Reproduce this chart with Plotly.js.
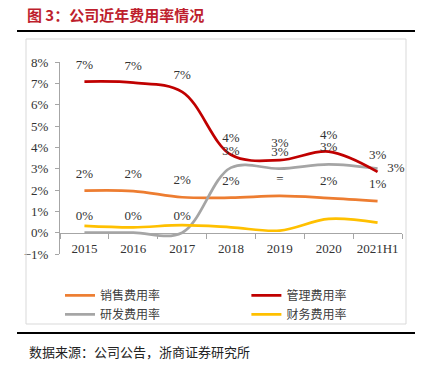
<!DOCTYPE html>
<html><head><meta charset="utf-8">
<script src="https://cdn.plot.ly/plotly-3.0.1.min.js"></script>
<style>html,body{margin:0;padding:0;background:#fff}#chart{width:427px;height:368px}</style>
</head><body><div id="chart"></div>
<script>
const categories = ['2015','2016','2017','2018','2019','2020','2021H1'];
const salesRate = [1.97, 1.95, 1.66, 1.64, 1.72, 1.62, 1.48];
const mgmtRate  = [7.08, 7.03, 6.6, 3.65, 3.4, 3.8, 2.85];
const rdRate    = [0.0, 0.0, 0.0, 3.05, 3.0, 3.2, 3.0];
const finRate   = [0.32, 0.25, 0.35, 0.25, 0.1, 0.65, 0.47];
const salesLabels = ['2%','2%','2%','2%','=','2%','1%'];
const mgmtLabels  = ['7%','7%','7%','4%','3%','4%','3%'];
const rdLabels    = ['0%','0%','0%','3%','3%','3%','3%'];
const rdLabelPos  = ['top center','top center','top center','top center','top center','top center','middle right'];
const seriesNames = ['销售费用率','管理费用率','研发费用率','财务费用率'];
const colors = ['#ED7D31','#C00000','#A5A5A5','#FFC000'];

const lblFont = {family:'Liberation Serif, Times New Roman, serif', size:13, color:'#333'};
function line(name, y, color, legend){
  return {x:categories, y:y, name:name, type:'scatter', mode:'lines', legend:legend,
    line:{color:color, width:2.7, shape:'spline', smoothing:1}, hoverinfo:'skip'};
}
function labels(y, text, pos){
  return {x:categories, y:y, type:'scatter', mode:'markers+text', showlegend:false,
    text:text, textposition:pos||'top center', textfont:lblFont,
    marker:{size:14, opacity:0}, cliponaxis:false, hoverinfo:'skip'};
}
const data = [
  line(seriesNames[0], salesRate, colors[0], 'legend'),
  line(seriesNames[2], rdRate, colors[2], 'legend'),
  line(seriesNames[1], mgmtRate, colors[1], 'legend2'),
  line(seriesNames[3], finRate, colors[3], 'legend2'),
  labels(salesRate, salesLabels),
  labels(mgmtRate, mgmtLabels),
  labels(rdRate, rdLabels, rdLabelPos)
];
const axisCol = '#A6A6A6';
const tickFont = {family:'Liberation Serif, Times New Roman, serif', size:13, color:'#333'};
const legFont = {family:'Noto Sans CJK SC', size:12, color:'#404040'};
const layout = {
  width:427, height:368,
  margin:{l:60, r:25, t:62, b:114},
  paper_bgcolor:'#fff', plot_bgcolor:'#fff',
  showlegend:true,
  title:{text:'图 3：公司近年费用率情况', xref:'container', yref:'container', x:0.063, xanchor:'left', y:0.958, yanchor:'middle',
    font:{family:'Noto Sans CJK SC', size:15, color:'#BE1E2D', weight:'bold'}},
  xaxis:{type:'category', categoryorder:'array', categoryarray:categories, range:[-0.5,6.5],
    anchor:'free', position:1/9, showline:true, linecolor:axisCol, linewidth:1,
    ticks:'outside', tickson:'boundaries', ticklen:5, tickcolor:axisCol, tickangle:0, automargin:false,
    showgrid:false, zeroline:false, fixedrange:true, tickfont:tickFont, ticklabelstandoff:4},
  yaxis:{range:[-1,8], dtick:1, tick0:0, ticksuffix:'%', showline:true, linecolor:axisCol, linewidth:1,
    ticks:'outside', ticklen:4, tickcolor:axisCol, showgrid:false, zeroline:false, automargin:false,
    tickfont:tickFont, ticklabelstandoff:4},
  legend:{orientation:'v', x:0.0, xanchor:'left', y:-0.14, yanchor:'top', font:legFont, tracegroupgap:0, itemwidth:30, bgcolor:'rgba(0,0,0,0)'},
  legend2:{orientation:'v', x:0.545, xanchor:'left', y:-0.14, yanchor:'top', font:legFont, tracegroupgap:0, itemwidth:30, bgcolor:'rgba(0,0,0,0)'},
  shapes:[
    {type:'line', xref:'paper', yref:'paper', x0:-0.1257, x1:1.038, y0:1.1615, y1:1.1615, line:{color:'#000', width:2}},
    {type:'rect', xref:'paper', yref:'paper', x0:-0.0994, x1:1.0117, y0:-0.3646, y1:1.1198, line:{color:'#D9D9D9', width:1}},
    {type:'line', xref:'paper', yref:'paper', x0:-0.1257, x1:1.038, y0:-0.4115, y1:-0.4115, line:{color:'#000', width:2}}
  ],
  annotations:[
    {text:'数据来源：公司公告，浙商证券研究所', xref:'paper', yref:'paper', x:-0.0965, y:-0.51, xanchor:'left', yanchor:'middle', showarrow:false,
     font:{family:'Noto Sans CJK SC', size:13, color:'#222'}}
  ]
};
Plotly.newPlot('chart', data, layout, {displayModeBar:false, staticPlot:true});
</script></body></html>
